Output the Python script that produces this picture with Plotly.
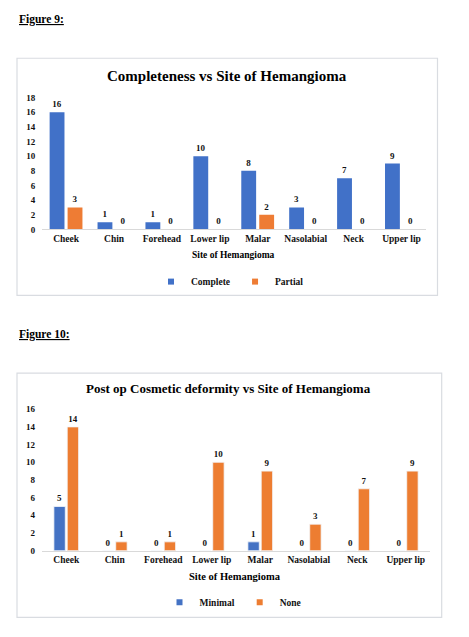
import plotly.graph_objects as go

sites = ["Cheek", "Chin", "Forehead", "Lower lip", "Malar", "Nasolabial", "Neck", "Upper lip"]

complete = [16, 1, 1, 10, 8, 3, 7, 9]
partial = [3, 0, 0, 0, 2, 0, 0, 0]

minimal = [5, 0, 0, 0, 1, 0, 0, 0]
none_deformity = [14, 1, 1, 10, 9, 3, 7, 9]

BLEU = "#4171C8"
ORANGE = "#EE7C34"
POLICE = "Liberation Serif, Times New Roman, serif"
TEXTE = "#111111"

# la page HTML garde une marge de 8 px autour de la figure
MARGE_PAGE = 8
W, H = 469 - 2 * MARGE_PAGE, 637 - 2 * MARGE_PAGE


def px_x(x):
    """Convertit une position en pixels de l'image en coordonnée papier."""
    return (x - MARGE_PAGE) / W


def px_y(y):
    """Convertit une position en pixels (depuis le haut) en coordonnée papier."""
    return 1 - (y - MARGE_PAGE) / H


fig = go.Figure()

# Figure 9 : barres avec largeur et décalage explicites
fig.add_trace(go.Bar(
    x=sites, y=complete, name="Complete", showlegend=False,
    marker=dict(color=BLEU, line=dict(width=0)),
    width=0.31, offset=-0.345,
    text=complete, textposition="outside", cliponaxis=False,
    textfont=dict(size=9, color=TEXTE),
    xaxis="x", yaxis="y"
))
fig.add_trace(go.Bar(
    x=sites, y=partial, name="Partial", showlegend=False,
    marker=dict(color=ORANGE, line=dict(width=0)),
    width=0.31, offset=0.03,
    text=partial, textposition="outside", cliponaxis=False,
    textfont=dict(size=9, color=TEXTE),
    xaxis="x", yaxis="y"
))

# Figure 10
fig.add_trace(go.Bar(
    x=sites, y=minimal, name="Minimal", showlegend=False,
    marker=dict(color="#4472C4", line=dict(width=0.8, color="#F4F6FA")),
    width=0.235, offset=-0.255,
    text=minimal, textposition="outside", cliponaxis=False,
    textfont=dict(size=9, color=TEXTE),
    xaxis="x2", yaxis="y2"
))
fig.add_trace(go.Bar(
    x=sites, y=none_deformity, name="None", showlegend=False,
    marker=dict(color="#ED7D31", line=dict(width=0.8, color="#F4F6FA")),
    width=0.235, offset=0.02,
    text=none_deformity, textposition="outside", cliponaxis=False,
    textfont=dict(size=9, color=TEXTE),
    xaxis="x2", yaxis="y2"
))

# Légendes : petits carrés comme dans Excel
for nom, couleur, legende, axes in [
    ("Complete", BLEU, "legend", ("x", "y")),
    ("Partial", ORANGE, "legend", ("x", "y")),
    ("Minimal", "#4472C4", "legend2", ("x2", "y2")),
    ("None", "#ED7D31", "legend2", ("x2", "y2")),
]:
    fig.add_trace(go.Scatter(
        x=[None], y=[None], mode="markers", name=nom,
        marker=dict(symbol="square", size=6, color=couleur),
        xaxis=axes[0], yaxis=axes[1], legend=legende
    ))

axe_x = dict(
    type="category", range=[-0.5, 7.5], showgrid=False, zeroline=False,
    showline=True, linecolor="#D9D9D9", linewidth=1, ticks="",
    tickfont=dict(size=9.5, color=TEXTE), fixedrange=True
)
axe_y = dict(
    showgrid=False, zeroline=False, showline=False, ticks="",
    tickfont=dict(size=9, color=TEXTE), ticklabelstandoff=6, fixedrange=True
)

fig.update_layout(
    width=W, height=H,
    margin=dict(l=0, r=0, t=0, b=0),
    paper_bgcolor="white", plot_bgcolor="white",
    font=dict(family=POLICE, color=TEXTE, weight="bold"),
    barmode="overlay",
    xaxis=dict(axe_x, domain=[px_x(42.2), px_x(425.5)], anchor="y"),
    yaxis=dict(axe_y, domain=[px_y(228), px_y(94)], range=[0, 18], dtick=2, anchor="x"),
    xaxis2=dict(axe_x, domain=[px_x(42), px_x(430)], anchor="y2"),
    yaxis2=dict(axe_y, domain=[px_y(554.5), px_y(410.7)], range=[0, 16], dtick=2, anchor="x2"),
    legend=dict(
        orientation="h", x=px_x(230), y=px_y(281), xanchor="center", yanchor="middle",
        font=dict(size=9.5), itemwidth=30, entrywidth=0, bgcolor="rgba(0,0,0,0)"
    ),
    legend2=dict(
        orientation="h", x=px_x(233), y=px_y(607), xanchor="center", yanchor="middle",
        font=dict(size=9.5), itemwidth=30, entrywidth=0, bgcolor="rgba(0,0,0,0)"
    ),
)

# Cadres des deux graphiques
for (x0, y0, x1, y1) in [(17, 54, 437.5, 295), (17, 374, 441.7, 622.3)]:
    fig.add_shape(
        type="rect", xref="paper", yref="paper",
        x0=px_x(x0), x1=px_x(x1), y0=px_y(y1), y1=px_y(y0),
        line=dict(color="#D9DCE1", width=1.2), layer="below"
    )

# Textes : libellés de figure, titres, titres d'axe
textes = [
    ("<u>Figure 9:</u>", 17, 15, 11.5, "left"),
    ("Completeness vs Site of Hemangioma", 226.7, 72, 15, "center"),
    ("Site of Hemangioma", 233, 254, 9.5, "center"),
    ("<u>Figure 10:</u>", 17, 335, 11.5, "left"),
    ("Post op Cosmetic deformity vs Site of Hemangioma", 228.5, 390, 13, "center"),
    ("Site of Hemangioma", 235, 581, 10.5, "center"),
]
for texte, x, y, taille, ancre in textes:
    fig.add_annotation(
        text=texte, xref="paper", yref="paper", x=px_x(x), y=px_y(y),
        xanchor=ancre, yanchor="middle", showarrow=False,
        font=dict(size=taille, color="#000000")
    )

fig.write_html("out.html")
